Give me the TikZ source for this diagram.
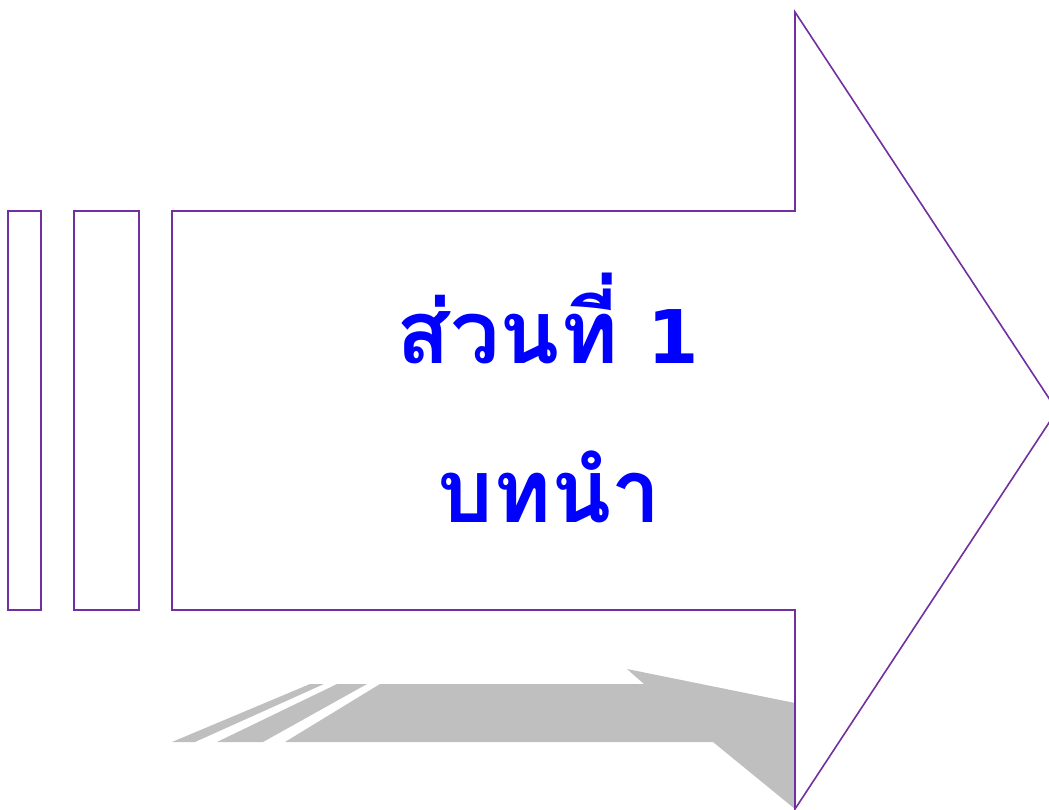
\documentclass[tikz,border=0pt]{standalone}
\usepackage{fontspec}
\newfontfamily\thaifont[Script=Thai]{Loma}
\newfontfamily\digitfont{DejaVu Sans}
\definecolor{edgepurple}{HTML}{7030A0}
\definecolor{shadowgray}{HTML}{BFBFBF}
\begin{document}
\begin{tikzpicture}[x=1pt,y=-1pt,
  outline/.style={draw=edgepurple,line width=1.6pt,fill=white},
  shade/.style={fill=shadowgray,draw=none},
  title/.style={text=blue,font=\thaifont\bfseries\fontsize{88}{100}\selectfont,anchor=base,inner sep=0pt}]
\useasboundingbox (0,0) rectangle (1049,809);
\clip (0,0) rectangle (1049,809);
% shadow
\fill[shade] (172,742) -- (195,742) -- (324,684) -- (310,684) -- cycle;
\fill[shade] (217,742) -- (263,742) -- (367,684) -- (337,684) -- cycle;
\fill[shade] (285,742) -- (380,684) -- (644,684) -- (627,669) -- (795,703) -- (795,809) -- (713,742) -- cycle;
% bars
\draw[outline] (8,211) rectangle (41,610);
\draw[outline] (74,211) rectangle (139,610);
% arrow
\draw[outline] (172,211) -- (795,211) -- (795,12) -- (1057,410.5) -- (795,809) -- (795,610) -- (172,610) -- cycle;
% text
\node[title] (t1) at (548,363) {ส่วนที่ {\digitfont\bfseries\fontsize{74}{90}\selectfont 1}};
\node[title] (t2) at (549,522) {บทนำ};
\end{tikzpicture}
\end{document}
